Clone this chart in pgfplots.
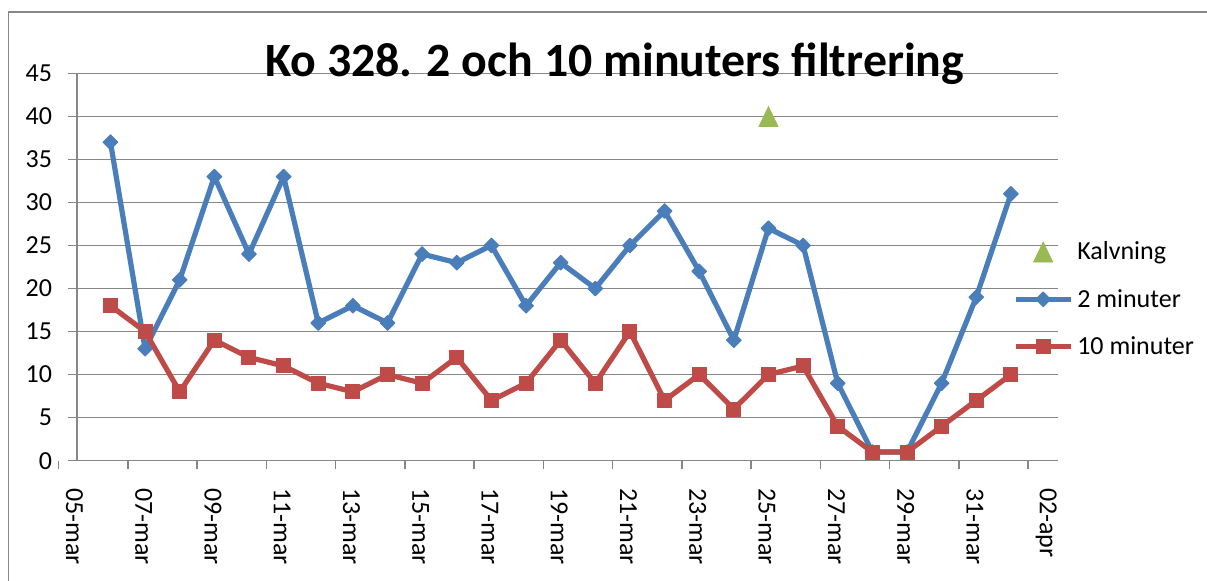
\documentclass[border=0pt]{standalone}
\usepackage{pgfplots}
\pgfplotsset{compat=1.18}
\usepackage{fontspec}
\setmainfont{Carlito}
\definecolor{cblue}{HTML}{4A7EBB}
\definecolor{cred}{HTML}{BE4B48}
\definecolor{cgreen}{HTML}{98B954}
\definecolor{cgrid}{HTML}{878787}
\begin{document}
\begin{tikzpicture}
\useasboundingbox (0,0) rectangle (603.5pt,290.5pt);
\fill[white] (0,0) rectangle (603.5pt,290.5pt);
\draw[cgrid, line width=0.75pt] (4.15pt,-5pt) rectangle (610pt,284.5pt);
% axis carrying the date ticks and labels
\begin{axis}[
  at={(29.25pt,60.15pt)}, anchor=south west,
  scale only axis, width=499.75pt, height=193.7pt,
  xmin=0, xmax=28.86, ymin=0, ymax=45,
  hide y axis,
  axis x line*=bottom,
  x axis line style={draw=none},
  xtick={0,2,...,28},
  xticklabels={05-mar,07-mar,09-mar,11-mar,13-mar,15-mar,17-mar,19-mar,21-mar,23-mar,25-mar,27-mar,29-mar,31-mar,02-apr},
  tick align=outside, major tick length=4pt,
  tick style={cgrid, line width=0.75pt},
  xticklabel style={rotate=-90, anchor=south west, inner xsep=0pt, inner ysep=3.5pt, font=\fontsize{13pt}{15pt}\selectfont},
  xticklabel shift=9.5pt,
]
\end{axis}
% main axis
\begin{axis}[
  at={(38.5pt,60.15pt)}, anchor=south west,
  scale only axis, width=490.5pt, height=193.7pt,
  xmin=0.534, xmax=28.86, ymin=0, ymax=45,
  axis x line*=bottom, axis y line*=left,
  axis line style={cgrid, line width=0.75pt},
  xtick=\empty,
  ytick={0,5,...,45},
  ymajorgrids, grid style={cgrid, line width=0.75pt},
  tick align=outside, major tick length=4.5pt,
  tick style={cgrid, line width=0.75pt},
  yticklabel style={font=\fontsize{13pt}{15pt}\selectfont, anchor=east, inner sep=0pt},
  yticklabel shift=7.8pt,
  /pgf/number format/assume math mode=true,
  clip=false,
  title={Ko 328. 2 och 10 minuters filtrering},
  title style={at={(0.548,0.991)}, anchor=base, yshift=-6pt, inner sep=0pt, font=\bfseries\fontsize{23.9pt}{28pt}\selectfont},
  legend style={at={(0.9538,0.4166)}, anchor=west, draw=none, fill=none, inner sep=0pt,
    row sep=12.75pt, column sep=2pt, font=\fontsize{13pt}{15pt}\selectfont,
    nodes={inner sep=0pt, text height=9.5pt, text depth=1.5pt}},
  legend cell align=left,
  legend image code/.code={\draw[mark repeat=2,mark phase=2,#1] plot coordinates {(0pt,0pt) (13.75pt,0pt) (27.5pt,0pt)};},
]
\addplot[only marks, color=cgreen, mark=triangle*, mark size=5.5pt,
  mark options={yscale=1.2, yshift=-1.5pt, line width=0.4pt, fill=cgreen}]
  coordinates {(20.5,40)};
\addlegendentry{Kalvning}
\addplot[color=cblue, line width=2.6pt, line join=round, mark=square*, mark size=2.6pt,
  mark options={rotate=45, line width=0.5pt, fill=cblue, solid}]
  coordinates {(1.5,37) (2.5,13) (3.5,21) (4.5,33) (5.5,24) (6.5,33) (7.5,16) (8.5,18) (9.5,16)
  (10.5,24) (11.5,23) (12.5,25) (13.5,18) (14.5,23) (15.5,20) (16.5,25) (17.5,29) (18.5,22)
  (19.5,14) (20.5,27) (21.5,25) (22.5,9) (23.5,1) (24.5,1) (25.5,9) (26.5,19) (27.5,31)};
\addlegendentry{2 minuter}
\addplot[color=cred, line width=2.6pt, line join=round, mark=square*, mark size=3.5pt,
  mark options={line width=0.5pt, fill=cred, solid}]
  coordinates {(1.5,18) (2.5,15) (3.5,8) (4.5,14) (5.5,12) (6.5,11) (7.5,9) (8.5,8) (9.5,10)
  (10.5,9) (11.5,12) (12.5,7) (13.5,9) (14.5,14) (15.5,9) (16.5,15) (17.5,7) (18.5,10)
  (19.5,6) (20.5,10) (21.5,11) (22.5,4) (23.5,1) (24.5,1) (25.5,4) (26.5,7) (27.5,10)};
\addlegendentry{10 minuter}
\end{axis}
\end{tikzpicture}
\end{document}
